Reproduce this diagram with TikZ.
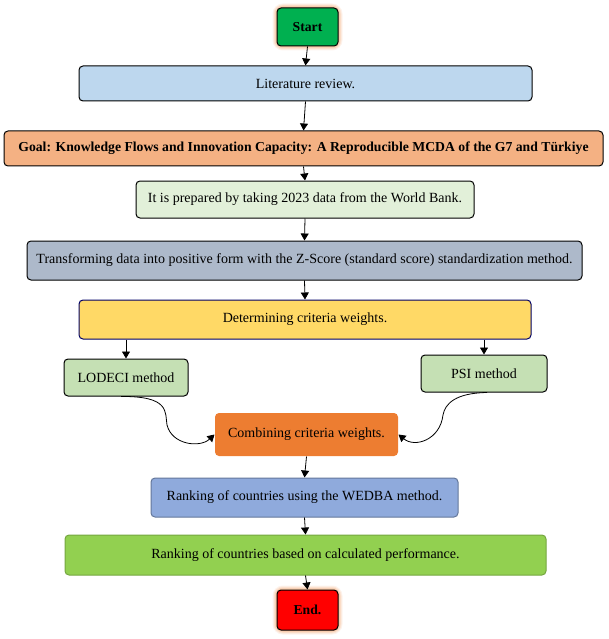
\documentclass[tikz,border=0pt]{standalone}
\usepackage{fontspec}
\setmainfont{Liberation Serif}
\usetikzlibrary{arrows.meta,positioning}
\definecolor{cstart}{HTML}{00B050}
\definecolor{clit}{HTML}{BDD7EE}
\definecolor{cgoal}{HTML}{F4B183}
\definecolor{cwb}{HTML}{E2F0D9}
\definecolor{ctrans}{HTML}{ADB9CA}
\definecolor{cdet}{HTML}{FFD966}
\definecolor{cmeth}{HTML}{C5E0B4}
\definecolor{ccomb}{HTML}{ED7D31}
\definecolor{cwed}{HTML}{8FAADC}
\definecolor{crank}{HTML}{92D050}
\definecolor{cend}{HTML}{FF0000}
\definecolor{cglow}{HTML}{F4B183}
\tikzset{
  box/.style={draw=black, line width=1pt, rounded corners=4pt, align=center, inner sep=0pt, font=\fontsize{14}{16}\selectfont},
  boldtxt/.style={font=\fontsize{13.7}{16}\selectfont\bfseries},
  arr/.style={-{Triangle[length=7pt,width=8pt]}, line width=0.8pt},
}
\newcommand{\boxat}[7]{% name, x1, y1, x2, y2, style, text
  \node[box,#6, minimum width=#4pt-#2pt, minimum height=#5pt-#3pt] (#1) at ({(#2+#4)/2}, {(#3+#5)/2}) {#7};}
\begin{document}
\begin{tikzpicture}[x=1pt,y=-1pt]
\useasboundingbox (0,0) rectangle (608,639);
% glows
\foreach \w/\o in {9/0.15,7/0.2,5/0.3,3/0.4}{
  \draw[cglow, line width=\w pt, opacity=\o, rounded corners=6pt] (277,8) rectangle (338,46);
  \draw[cglow, line width=\w pt, opacity=\o, rounded corners=6pt] (277,590) rectangle (338,630);
}
\boxat{start}{277}{8}{338}{46}{fill=cstart,boldtxt}{Start}
\boxat{lit}{79}{66}{532}{101}{fill=clit}{Literature review.}
\boxat{goal}{4}{131}{603}{166}{fill=cgoal,boldtxt}{Goal: Knowledge Flows and Innovation Capacity: A Reproducible MCDA of the G7 and Türkiye}
\boxat{wb}{136}{181}{474}{218}{fill=cwb}{It is prepared by taking 2023 data from the World Bank.}
\boxat{trans}{27}{241}{582}{280}{fill=ctrans}{Transforming data into positive form with the Z-Score (standard score) standardization method.}
\boxat{det}{79}{300}{531}{339}{fill=cdet,draw=black!60!blue}{Determining criteria weights.}
\boxat{lod}{64}{359}{188}{396}{fill=cmeth}{LODECI method}
\boxat{psi}{421}{355}{547}{392}{fill=cmeth}{PSI method}
\boxat{comb}{215}{413}{398}{456}{fill=ccomb,draw=none}{Combining criteria weights.}
\boxat{wed}{151}{478}{458}{517}{fill=cwed,draw=cwed!70!black}{Ranking of countries using the WEDBA method.}
\boxat{rank}{65}{535}{546}{575}{fill=crank,draw=crank!80!black}{Ranking of countries based on calculated performance.}
\boxat{end}{277}{590}{338}{630}{fill=cend,boldtxt}{End.}
% connectors
\draw[arr] (start.south) -- (lit.north);
\draw[arr] (lit.south) -- (goal.north);
\draw[arr] (goal.south) -- (wb.north);
\draw[arr] (wb.south) -- (trans.north);
\draw[arr] (trans.south) -- (det.north);
\draw[arr] (det.south -| lod.north) -- (lod.north);
\draw[arr] (det.south -| psi.north) -- (psi.north);
\draw[arr] ([xshift=-5pt]lod.south) .. controls (170,396) and (165,412) .. (167,425) .. controls (172,445) and (200,448) .. (comb.west);
\draw[arr] ([xshift=3pt]psi.south) .. controls (455,393) and (445,404) .. (443,415) .. controls (440,440) and (415,448) .. (comb.east);
\draw[arr] (comb.south) -- (wed.north);
\draw[arr] (wed.south) -- (rank.north);
\draw[arr] (rank.south) -- (end.north);
\end{tikzpicture}
\end{document}
